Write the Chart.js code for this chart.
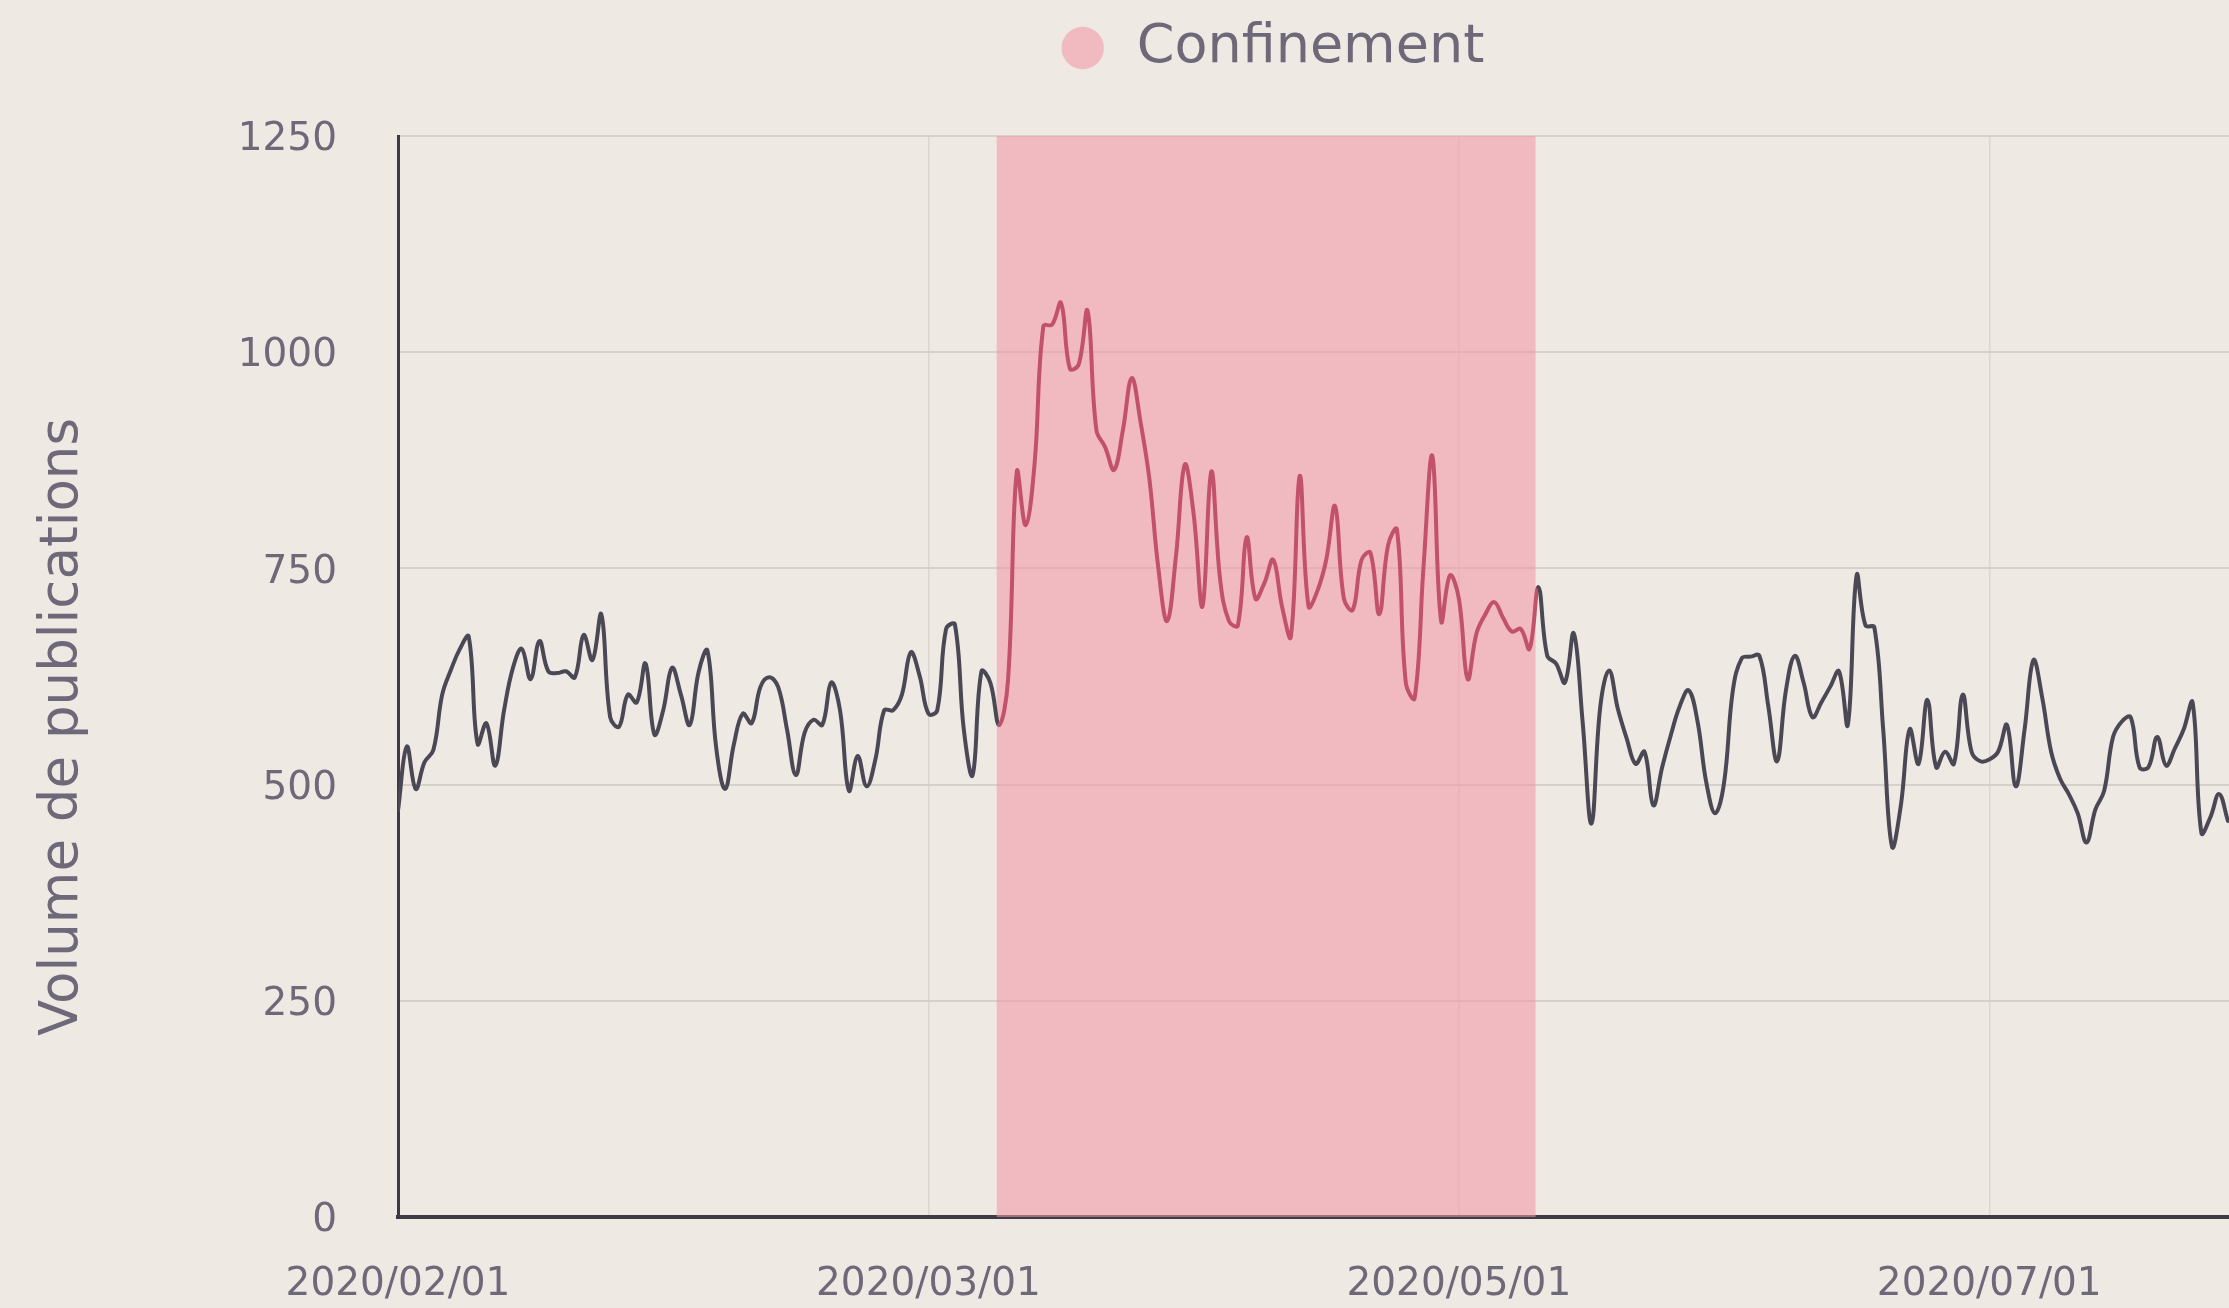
<!DOCTYPE html>
<html lang="fr">
<head>
    <meta charset="UTF-8">
    <title>Volume de publications - Confinement</title>
    <script src="https://cdn.jsdelivr.net/npm/chart.js@4.4.1/dist/chart.umd.min.js"></script>
    <style>
        html, body {
            margin: 0;
            padding: 0;
            overflow: hidden;
            background: #efe9e4;
        }

        .chart-wrap {
            width: 2540px;
            height: 1308px;
        }
    </style>
</head>
<body>
    <div class="chart-wrap">
        <canvas id="volumeChart" width="2540" height="1308"></canvas>
    </div>

    <script>
        // daily volume, day 0 = 2020/02/01 (one value per day)
        const volumes = [
            470, 544, 495, 526, 540, 604, 633, 657, 671, 547,
            571, 522, 586, 635, 657, 622, 666, 631, 629, 631,
            624, 673, 644, 697, 578, 567, 604, 595, 640, 558,
            586, 635, 604, 569, 630, 655, 542, 495, 547, 582,
            571, 613, 624, 613, 564, 511, 560, 575, 569, 618,
            586, 493, 533, 498, 529, 586, 586, 604, 653, 626,
            582, 586, 680, 685, 564, 511, 631, 618, 569, 620,
            862, 800, 870, 1030, 1032, 1057, 981, 986, 1048, 910,
            890, 864, 910, 970, 919, 853, 751, 689, 764, 870,
            813, 706, 862, 737, 689, 684, 786, 715, 733, 760,
            706, 671, 857, 706, 724, 760, 822, 715, 702, 760,
            768, 697, 777, 795, 618, 600, 751, 880, 689, 742,
            715, 622, 675, 697, 711, 693, 677, 680, 657, 728,
            649, 640, 618, 675, 573, 455, 590, 632, 587, 553,
            524, 538, 476, 520, 558, 591, 609, 573, 502, 467,
            502, 609, 646, 648, 649, 591, 527, 609, 649, 618,
            578, 595, 613, 631, 569, 742, 684, 682, 564, 428,
            476, 564, 524, 598, 520, 538, 524, 604, 538, 527,
            529, 538, 569, 498, 564, 644, 600, 538, 507, 489,
            467, 433, 471, 493, 555, 573, 578, 520, 520, 555,
            522, 542, 564, 595, 444, 462, 489, 458
        ];

        // confinement period, in days from 2020/02/01
        const confinementRange = [67.7, 128.7];

        const tickDays = [0, 60, 120, 180];
        const tickLabels = ['2020/02/01', '2020/03/01', '2020/05/01', '2020/07/01'];

        const yTicks = [0, 250, 500, 750, 1000, 1250];

        const textColor = '#6e6878';
        const darkLine = '#4a4855';
        const redLine = '#c2516b';

        Chart.defaults.font.family = '"DejaVu Sans", sans-serif';
        Chart.defaults.color = textColor;

        // leave room under the legend, like the original layout
        const legendSpace = {
            id: 'legendSpace',
            beforeInit(chart) {
                const fit = chart.legend.fit;
                chart.legend.fit = function () {
                    fit.call(this);
                    this.height = 136;
                };
            }
        };

        function inConfinement(x) {
            return x >= confinementRange[0] - 0.5 && x <= confinementRange[1] + 0.5;
        }

        const ctx = document.getElementById('volumeChart').getContext('2d');

        new Chart(ctx, {
            type: 'line',
            data: {
                datasets: [
                    {
                        label: 'Volume',
                        data: volumes.map((v, i) => ({ x: i, y: v })),
                        borderColor: darkLine,
                        borderWidth: 4,
                        borderJoinStyle: 'round',
                        borderCapStyle: 'round',
                        pointRadius: 0,
                        tension: 0.4,
                        fill: false,
                        order: 0,
                        segment: {
                            borderColor: c => (inConfinement(c.p0.parsed.x) && inConfinement(c.p1.parsed.x)) ? redLine : darkLine
                        }
                    },
                    {
                        label: 'Confinement',
                        data: [
                            { x: confinementRange[0], y: yTicks[yTicks.length - 1] },
                            { x: confinementRange[1], y: yTicks[yTicks.length - 1] }
                        ],
                        backgroundColor: 'rgba(241, 152, 166, 0.58)',
                        borderColor: 'rgba(236, 176, 184, 1)',
                        borderWidth: 0,
                        pointRadius: 0,
                        pointStyle: 'circle',
                        tension: 0,
                        fill: 'origin',
                        order: 1
                    }
                ]
            },
            options: {
                responsive: false,
                animation: false,
                layout: { padding: 0 },
                plugins: {
                    legend: {
                        display: true,
                        position: 'top',
                        labels: {
                            usePointStyle: true,
                            boxHeight: 30,
                            boxWidth: 54,
                            padding: 21,
                            color: textColor,
                            font: { size: 54 },
                            filter: item => item.text === 'Confinement'
                        }
                    },
                    tooltip: { enabled: false }
                },
                scales: {
                    x: {
                        type: 'linear',
                        min: 0,
                        max: 242.3,
                        afterBuildTicks: scale => {
                            scale.ticks = tickDays.map(d => ({ value: d }));
                        },
                        afterFit: scale => {
                            scale.height = 91;
                        },
                        ticks: {
                            autoSkip: false,
                            maxRotation: 0,
                            padding: 44,
                            color: textColor,
                            font: { size: 39 },
                            callback: (value, index) => tickLabels[index]
                        },
                        grid: {
                            color: '#dcd5d0',
                            lineWidth: 1.5,
                            drawTicks: false
                        },
                        border: {
                            color: '#3c3a45',
                            width: 4
                        }
                    },
                    y: {
                        min: 0,
                        max: 1250,
                        afterBuildTicks: scale => {
                            scale.ticks = yTicks.map(v => ({ value: v }));
                        },
                        afterFit: scale => {
                            scale.width = 398;
                        },
                        ticks: {
                            padding: 61,
                            labelOffset: 4,
                            color: textColor,
                            font: { size: 39 },
                            callback: value => String(value)
                        },
                        grid: {
                            color: '#d6d0cb',
                            lineWidth: 2,
                            drawTicks: false
                        },
                        border: {
                            color: '#3c3a45',
                            width: 3
                        },
                        title: {
                            display: true,
                            // trailing spaces push the centred text down, as in the original
                            text: 'Volume de publications\u00a0\u00a0\u00a0\u00a0\u00a0\u00a0',
                            color: textColor,
                            font: { size: 53 },
                            padding: { top: 31, bottom: 0 }
                        }
                    }
                }
            },
            plugins: [legendSpace]
        });
    </script>
</body>
</html>
